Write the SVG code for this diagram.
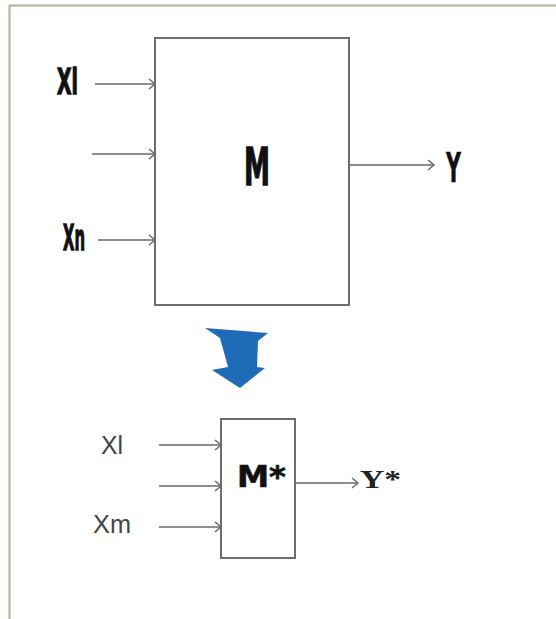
<svg xmlns="http://www.w3.org/2000/svg" width="556" height="619" viewBox="0 0 556 619">
<defs>
<style>
.box{fill:#fff;stroke:#6e6e6e;stroke-width:2}
.con{stroke:#6a6a6a;stroke-width:1.7;fill:none}
.big{font-family:"DejaVu Sans",sans-serif;font-weight:bold;fill:#111;stroke:#111;stroke-width:1.4}
.sm{font-family:"Liberation Sans",Arial,sans-serif;fill:#444}
</style>
<marker id="ah" markerWidth="10" markerHeight="12" refX="8" refY="6" orient="auto" markerUnits="userSpaceOnUse">
<path d="M2,1 L8,6 L2,11" fill="none" stroke="#6a6a6a" stroke-width="1.5"/>
</marker>
</defs>
<rect x="0" y="0" width="556" height="619" fill="#fff"/>
<path d="M9.5,619 V5.5 H556" fill="none" stroke="#a6b592" stroke-width="2"/>
<g id="node-M">
<rect class="box" x="155" y="38" width="194" height="267"/>
<text class="big" x="257" y="185" font-size="51" text-anchor="middle" textLength="26" lengthAdjust="spacingAndGlyphs">M</text>
</g>
<g id="label-X1"><text class="big" x="57" y="94" font-size="36" textLength="21" lengthAdjust="spacingAndGlyphs">Xl</text></g>
<g id="label-Xn"><text class="big" x="63" y="250" font-size="35" textLength="22" lengthAdjust="spacingAndGlyphs">Xn</text></g>
<g id="label-Y"><text class="big" x="446" y="182" font-size="40" textLength="15" lengthAdjust="spacingAndGlyphs" style="stroke-width:0.4">Y</text></g>
<g id="transform-arrow">
<path d="M205,328 L268,333 L258,341 L257,367 L265,368 L240,388 L212,370 L228,367 L220,338 Z" fill="#1f6bb8"/>
</g>
<g id="node-Mstar">
<rect class="box" x="221" y="419" width="74" height="139"/>
<text x="237" y="487" font-family="'DejaVu Sans',sans-serif" font-weight="bold" font-size="30" fill="#111" stroke="#111" stroke-width="0.6" textLength="49" lengthAdjust="spacingAndGlyphs">M*</text>
</g>
<g id="label-X1s"><text class="sm" x="101" y="454" font-size="25" textLength="22" lengthAdjust="spacingAndGlyphs">Xl</text></g>
<g id="label-Xm"><text class="sm" x="93" y="533" font-size="25" textLength="38" lengthAdjust="spacingAndGlyphs">Xm</text></g>
<g id="label-Ystar"><text x="360" y="488" font-family="'Liberation Serif',serif" font-weight="bold" font-size="25" fill="#222" textLength="41" lengthAdjust="spacingAndGlyphs">Y*</text></g>
<g id="connectors">
<line class="con" x1="95" y1="84" x2="155" y2="84" marker-end="url(#ah)"/>
<line class="con" x1="92" y1="154" x2="155" y2="154" marker-end="url(#ah)"/>
<line class="con" x1="98" y1="240" x2="155" y2="240" marker-end="url(#ah)"/>
<line class="con" x1="349" y1="165" x2="434" y2="165" marker-end="url(#ah)"/>
<line class="con" x1="159" y1="445" x2="221" y2="445" marker-end="url(#ah)"/>
<line class="con" x1="159" y1="486" x2="221" y2="486" marker-end="url(#ah)"/>
<line class="con" x1="159" y1="527" x2="221" y2="527" marker-end="url(#ah)"/>
<line class="con" x1="296" y1="483" x2="358" y2="483" marker-end="url(#ah)"/>
</g>
</svg>
